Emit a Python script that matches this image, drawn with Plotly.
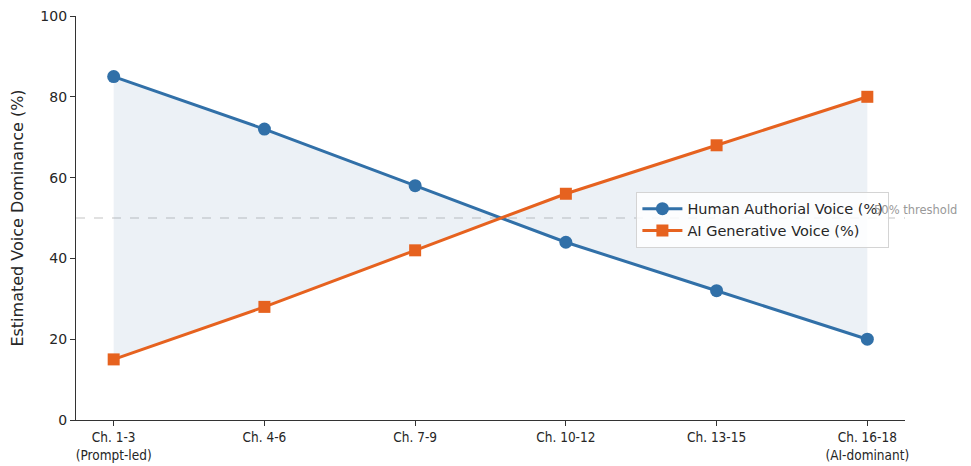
import plotly.graph_objects as go

categories = ["Ch. 1-3<br>(Prompt-led)", "Ch. 4-6", "Ch. 7-9", "Ch. 10-12", "Ch. 13-15", "Ch. 16-18<br>(AI-dominant)"]
human_voice = [85, 72, 58, 44, 32, 20]
ai_voice = [15, 28, 42, 56, 68, 80]
threshold = 50
y_ticks = [0, 20, 40, 60, 80, 100]

BLUE = "#3170a8"
ORANGE = "#e6621f"

fig = go.Figure()
# shaded region between the two series
fig.add_trace(go.Scatter(x=categories, y=ai_voice, mode="lines", line=dict(width=0, color="rgba(0,0,0,0)"),
                         showlegend=False, hoverinfo="skip"))
fig.add_trace(go.Scatter(x=categories, y=human_voice, mode="lines", line=dict(width=0, color="rgba(0,0,0,0)"),
                         fill="tonexty", fillcolor="rgba(70,120,170,0.10)", showlegend=False, hoverinfo="skip"))

fig.add_trace(go.Scatter(x=categories, y=human_voice, mode="lines+markers", name="Human Authorial Voice (%)",
                         line=dict(color=BLUE, width=3), marker=dict(symbol="circle", size=13, color=BLUE)))
fig.add_trace(go.Scatter(x=categories, y=ai_voice, mode="lines+markers", name="AI Generative Voice (%)",
                         line=dict(color=ORANGE, width=3), marker=dict(symbol="square", size=12, color=ORANGE)))

fig.add_shape(type="line", xref="paper", yref="y", x0=0, x1=1, y0=threshold, y1=threshold,
              line=dict(color="#c4c4c4", width=1.2, dash="dash"), layer="below")
fig.add_annotation(x=5.03, y=threshold, xref="x", yref="y", text=f"{threshold}% threshold", showarrow=False,
                   xanchor="left", yanchor="bottom", yshift=-1, font=dict(size=11.5, color="#999999"))

fig.update_layout(
    width=963, height=458,
    margin=dict(l=68, r=66, t=8, b=46, autoexpand=False),
    paper_bgcolor="white", plot_bgcolor="white",
    font=dict(family="DejaVu Sans", color="#262626", size=13),
    legend=dict(x=0.676, y=0.565, xanchor="left", yanchor="top", traceorder="normal",
                bgcolor="rgba(255,255,255,0.85)", bordercolor="#d4d4d4", borderwidth=1,
                font=dict(size=14.5, color="#262626"), tracegroupgap=0, itemwidth=40),
    showlegend=True,
)
fig.update_xaxes(type="category", range=[-0.25, 5.25], showline=True, linecolor="#333333", linewidth=1.2,
                 ticks="outside", ticklen=5, tickcolor="#333333", showgrid=False, zeroline=False, automargin=False,
                 ticklabeloverflow="allow",
                 tickfont=dict(family="DejaVu Sans Condensed, Liberation Sans Narrow, DejaVu Sans", size=13.5))
fig.update_yaxes(range=[0, 100], tickvals=y_ticks, showline=True, linecolor="#333333", linewidth=1.2,
                 ticks="outside", ticklen=5, tickcolor="#333333", showgrid=False, zeroline=False, automargin=False,
                 ticklabeloverflow="allow",
                 title=dict(text="Estimated Voice Dominance (%)", font=dict(size=16), standoff=13),
                 tickfont=dict(size=14))

fig.write_html("out.html")
